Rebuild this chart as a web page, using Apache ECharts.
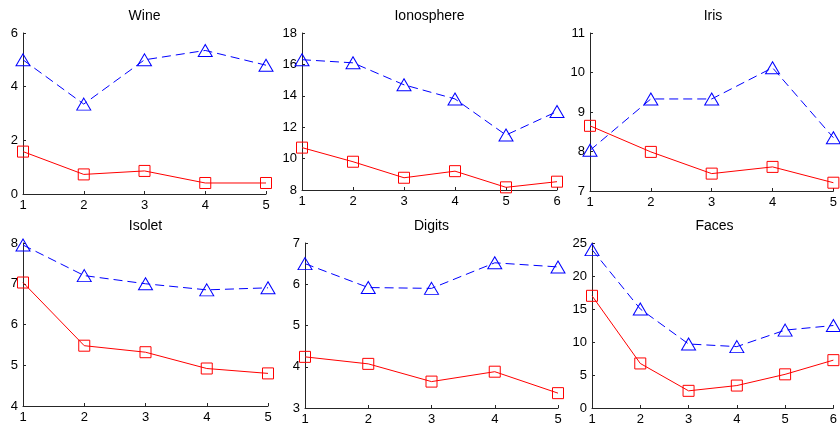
<!DOCTYPE html>
<html>
<head>
<meta charset="utf-8">
<script src="https://cdn.jsdelivr.net/npm/echarts@6/dist/echarts.min.js"></script>
<style>
  html, body { margin: 0; padding: 0; background: #fff; }
</style>
</head>
<body>
<div id="main" style="width: 840px; height: 426px"></div>
<script>
// panel titles
var titles = ["Wine", "Ionosphere", "Iris", "Isolet", "Digits", "Faces"];

// x positions per panel
var xWine = [1, 2, 3, 4, 5];
var xIono = [1, 2, 3, 4, 5, 6];
var xIris = [1, 2, 3, 4, 5];
var xIsolet = [1, 2, 3, 4, 5];
var xDigits = [1, 2, 3, 4, 5];
var xFaces = [1, 2, 3, 4, 5, 6];

// red solid squares
var redWine = [1.58, 0.73, 0.86, 0.41, 0.41];
var redIono = [10.7, 9.8, 8.78, 9.2, 8.17, 8.53];
var redIris = [8.65, 7.99, 7.44, 7.61, 7.21];
var redIsolet = [7.03, 5.48, 5.32, 4.92, 4.8];
var redDigits = [4.24, 4.07, 3.64, 3.88, 3.36];
var redFaces = [17.0, 6.75, 2.6, 3.4, 5.1, 7.25];

// blue dashed triangles
var blueWine = [5.0, 3.35, 5.0, 5.35, 4.8];
var blueIono = [16.3, 16.1, 14.7, 13.8, 11.5, 13.0];
var blueIris = [8.03, 9.33, 9.33, 10.12, 8.35];
var blueIsolet = [7.95, 7.2, 7.0, 6.85, 6.9];
var blueDigits = [6.5, 5.92, 5.9, 6.52, 6.42];
var blueFaces = [24.0, 15.0, 9.7, 9.3, 11.8, 12.5];

// y axis ranges [min, max, interval]
var yRanges = [[0, 6, 2], [8, 18, 2], [7, 11, 1], [4, 8, 1], [3, 7, 1], [0, 25, 5]];

var xs = [xWine, xIono, xIris, xIsolet, xDigits, xFaces];
var reds = [redWine, redIono, redIris, redIsolet, redDigits, redFaces];
var blues = [blueWine, blueIono, blueIris, blueIsolet, blueDigits, blueFaces];

// layout boxes: left, top, width, height
var boxes = [
  [23, 33, 243, 161],
  [302, 33, 255, 157],
  [590, 33, 246, 158],
  [23, 243, 245, 163],
  [305, 243, 253, 167],
  [592, 243, 245, 167]
];

var font = "Liberation Sans, Arial, sans-serif";
var axisColor = "#262626";

function pairs(x, y) {
  return x.map(function (v, i) { return [v, y[i]]; });
}

var grid = [], xAxis = [], yAxis = [], series = [], title = [];

boxes.forEach(function (b, i) {
  grid.push({ left: b[0], top: b[1], width: b[2], height: b[3], containLabel: false });
  title.push({
    text: titles[i],
    left: b[0] + b[2] / 2,
    top: b[1] - 24,
    textAlign: "center",
    padding: 0,
    textStyle: { fontFamily: font, fontSize: 14, fontWeight: "normal", color: "#000" }
  });
  xAxis.push({
    type: "value",
    gridIndex: i,
    min: 1,
    max: xs[i][xs[i].length - 1],
    interval: 1,
    splitLine: { show: false },
    axisLine: { lineStyle: { color: axisColor, width: 1 } },
    axisTick: { inside: true, length: 3, lineStyle: { color: axisColor } },
    axisLabel: { color: "#000", fontFamily: font, fontSize: 13, margin: 5 }
  });
  yAxis.push({
    type: "value",
    gridIndex: i,
    min: yRanges[i][0],
    max: yRanges[i][1],
    interval: yRanges[i][2],
    splitLine: { show: false },
    axisLine: { show: true, lineStyle: { color: axisColor, width: 1 } },
    axisTick: { show: true, inside: true, length: 3, lineStyle: { color: axisColor } },
    axisLabel: { color: "#000", fontFamily: font, fontSize: 13, margin: 5 }
  });
  series.push({
    type: "line",
    xAxisIndex: i,
    yAxisIndex: i,
    data: pairs(xs[i], reds[i]),
    clip: false,
    symbol: "rect",
    symbolSize: 11,
    lineStyle: { color: "#ff0000", width: 1 },
    itemStyle: { color: "none", borderColor: "#ff0000", borderWidth: 1 },
    z: 3
  });
  series.push({
    type: "line",
    xAxisIndex: i,
    yAxisIndex: i,
    data: pairs(xs[i], blues[i]),
    clip: false,
    symbol: "triangle",
    symbolSize: [14, 12],
    lineStyle: { color: "#0000ff", width: 1, type: [9, 5] },
    itemStyle: { color: "none", borderColor: "#0000ff", borderWidth: 1 },
    z: 4
  });
});

var myChart = echarts.init(document.getElementById("main"));
var option = {
  animation: false,
  backgroundColor: "#fff",
  title: title,
  grid: grid,
  xAxis: xAxis,
  yAxis: yAxis,
  series: series
};
option && myChart.setOption(option);
</script>
</body>
</html>
